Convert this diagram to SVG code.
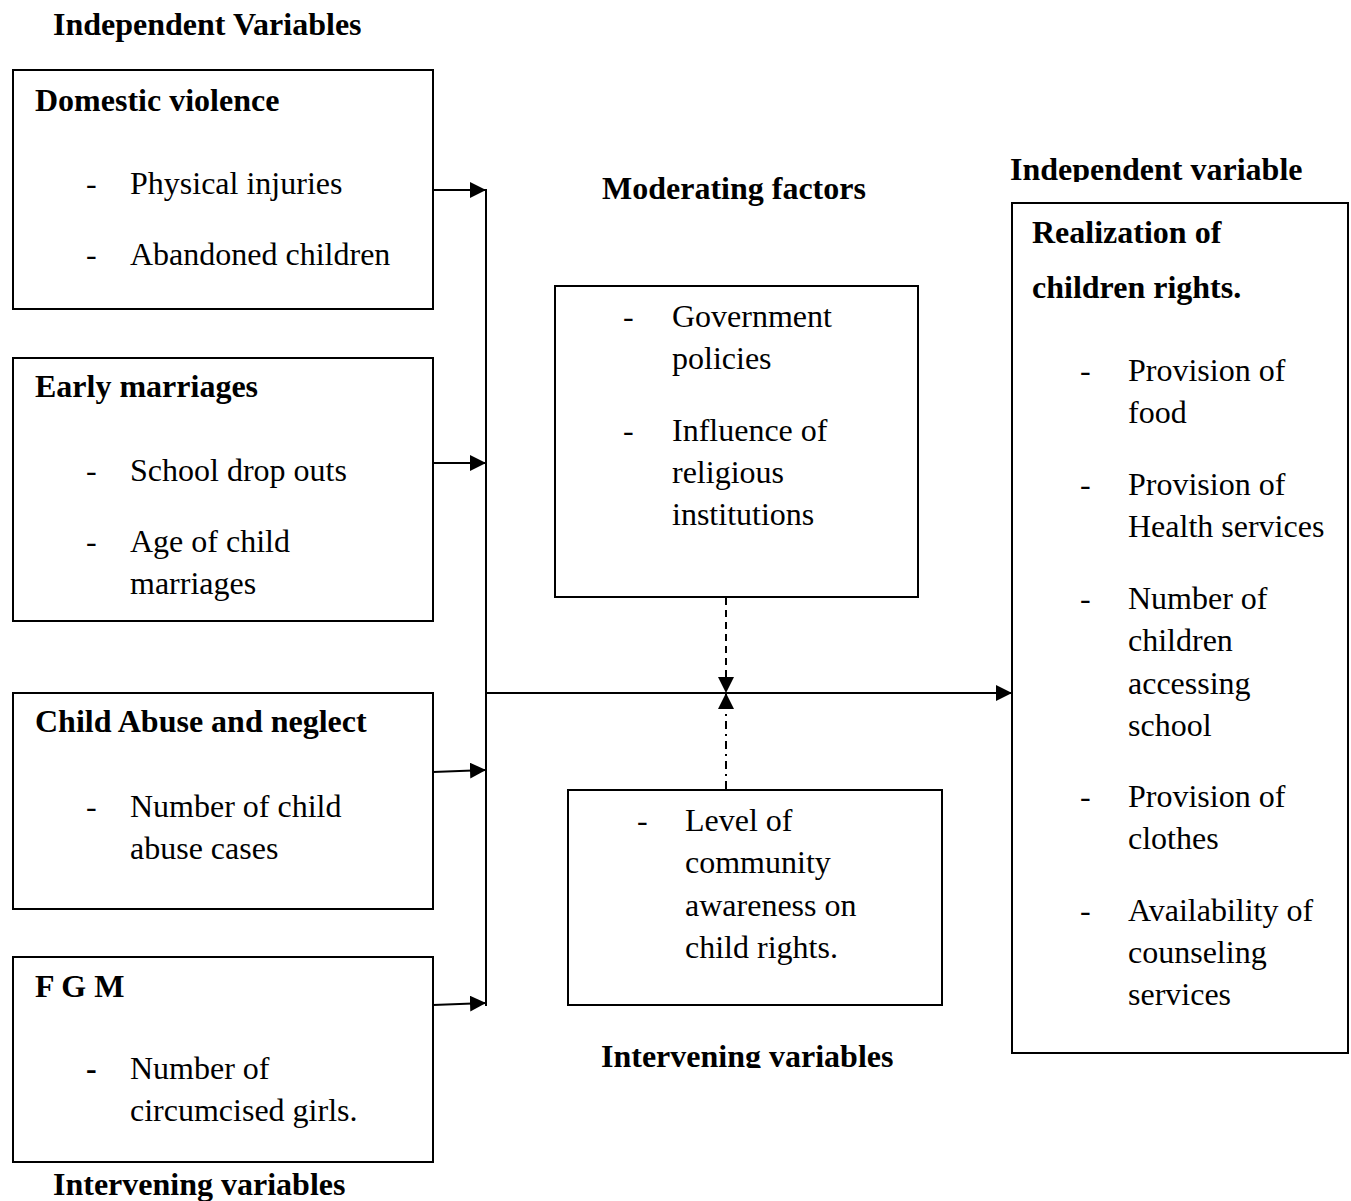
<svg xmlns="http://www.w3.org/2000/svg" width="1351" height="1201" viewBox="0 0 1351 1201">
<style>
text{font-family:"Liberation Serif","Times New Roman",serif;font-size:32px;fill:#000}
.b{font-weight:bold}
.box{fill:#fff;stroke:#000;stroke-width:2}
.ln{fill:none;stroke:#000;stroke-width:2}
</style>
<defs>
<marker id="ah" viewBox="0 0 16 16" refX="16" refY="8" markerWidth="16" markerHeight="16" markerUnits="userSpaceOnUse" orient="auto">
<path d="M0,0 L16,8 L0,16 Z" fill="#000"/>
</marker>
<clipPath id="c1"><rect x="990" y="140" width="340" height="42"/></clipPath>
<clipPath id="c2"><rect x="580" y="1030" width="340" height="38"/></clipPath>
</defs>
<rect width="1351" height="1201" fill="#fff"/>

<g id="titles">
<text class="b" x="53" y="35">Independent Variables</text>
<text class="b" x="602" y="199">Moderating factors</text>
<g clip-path="url(#c1)"><text class="b" x="1010" y="180">Independent variable</text></g>
<g clip-path="url(#c2)"><text class="b" x="601" y="1067">Intervening variables</text></g>
<text class="b" x="53" y="1195">Intervening variables</text>
</g>

<g id="domestic-violence">
<rect class="box" x="13" y="70" width="420" height="239"/>
<text class="b" x="35" y="111">Domestic violence</text>
<text x="86" y="194">-</text><text x="130" y="194">Physical injuries</text>
<text x="86" y="265">-</text><text x="130" y="265">Abandoned children</text>
</g>

<g id="early-marriages">
<rect class="box" x="13" y="358" width="420" height="263"/>
<text class="b" x="35" y="397">Early marriages</text>
<text x="86" y="481">-</text><text x="130" y="481">School drop outs</text>
<text x="86" y="552">-</text><text x="130" y="552">Age of child</text>
<text x="130" y="594">marriages</text>
</g>

<g id="child-abuse">
<rect class="box" x="13" y="693" width="420" height="216"/>
<text class="b" x="35" y="732">Child Abuse and neglect</text>
<text x="86" y="817">-</text><text x="130" y="817">Number of child</text>
<text x="130" y="859">abuse cases</text>
</g>

<g id="fgm">
<rect class="box" x="13" y="957" width="420" height="205"/>
<text class="b" x="35" y="997">F G M</text>
<text class="b" x="86" y="1079">-</text><text x="130" y="1079">Number of</text>
<text x="130" y="1121">circumcised girls.</text>
</g>

<g id="moderating">
<rect class="box" x="555" y="286" width="363" height="311"/>
<text x="623" y="327">-</text><text x="672" y="327">Government</text>
<text x="672" y="369">policies</text>
<text x="623" y="441">-</text><text x="672" y="441">Influence of</text>
<text x="672" y="483">religious</text>
<text x="672" y="525">institutions</text>
</g>

<g id="intervening">
<rect class="box" x="568" y="790" width="374" height="215"/>
<text x="637" y="831">-</text><text x="685" y="831">Level of</text>
<text x="685" y="873">community</text>
<text x="685" y="916">awareness on</text>
<text x="685" y="958">child rights.</text>
</g>

<g id="realization">
<rect class="box" x="1012" y="203" width="336" height="850"/>
<text class="b" x="1032" y="243">Realization of</text>
<text class="b" x="1032" y="298">children rights.</text>
<text x="1080" y="381">-</text><text x="1128" y="381">Provision of</text>
<text x="1128" y="423">food</text>
<text x="1080" y="495">-</text><text x="1128" y="495">Provision of</text>
<text x="1128" y="537">Health services</text>
<text x="1080" y="609">-</text><text x="1128" y="609">Number of</text>
<text x="1128" y="651">children</text>
<text x="1128" y="694">accessing</text>
<text x="1128" y="736">school</text>
<text x="1080" y="807">-</text><text x="1128" y="807">Provision of</text>
<text x="1128" y="849">clothes</text>
<text x="1080" y="921">-</text><text x="1128" y="921">Availability of</text>
<text x="1128" y="963">counseling</text>
<text x="1128" y="1005">services</text>
</g>

<g id="connectors">
<line class="ln" x1="486" y1="189" x2="486" y2="1006"/>
<line class="ln" x1="433" y1="190" x2="486" y2="190" marker-end="url(#ah)"/>
<line class="ln" x1="433" y1="463" x2="486" y2="463" marker-end="url(#ah)"/>
<line class="ln" x1="433" y1="772" x2="486" y2="770" marker-end="url(#ah)"/>
<line class="ln" x1="433" y1="1005" x2="486" y2="1003" marker-end="url(#ah)"/>
<line class="ln" x1="486" y1="693" x2="1012" y2="693" marker-end="url(#ah)"/>
<line class="ln" x1="726" y1="598" x2="726" y2="693" stroke-dasharray="7,5" marker-end="url(#ah)"/>
<line class="ln" x1="726" y1="789" x2="726" y2="693" stroke-dasharray="8,5,2,5" marker-end="url(#ah)"/>
</g>
</svg>
